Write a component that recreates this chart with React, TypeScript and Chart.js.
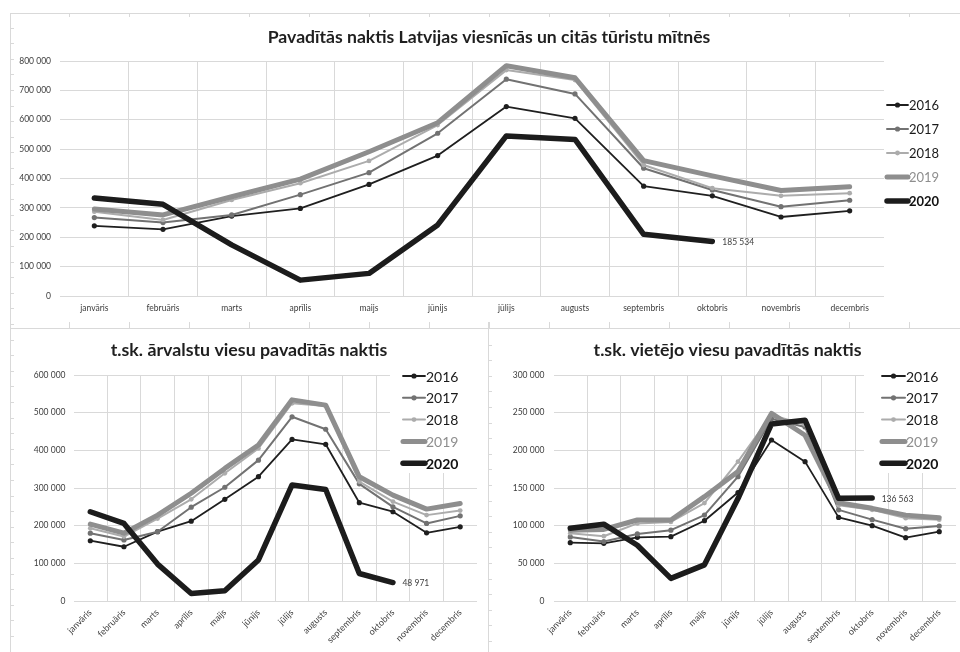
import React, { useEffect, useRef } from "react";
import { Chart, registerables } from "chart.js";

Chart.register(...registerables);

// ---------- DATA ----------
const months = [
  "janvāris", "februāris", "marts", "aprīlis", "maijs", "jūnijs",
  "jūlijs", "augusts", "septembris", "oktobris", "novembris", "decembris",
];
const years = ["2016", "2017", "2018", "2019", "2020"];

// Kopā (all guests)
const total2016 = [239000, 227000, 272000, 298000, 380000, 478000, 645000, 605000, 374000, 341000, 269000, 290000];
const total2017 = [267000, 250000, 276000, 345000, 420000, 554000, 738000, 688000, 435000, 361000, 304000, 326000];
const total2018 = [287000, 259000, 327000, 384000, 460000, 582000, 769000, 735000, 446000, 367000, 341000, 350000];
const total2019 = [296000, 276000, 338000, 398000, 491000, 590000, 784000, 743000, 461000, 409000, 359000, 372000];
const total2020 = [334000, 312000, 174000, 54000, 77000, 242000, 545000, 533000, 210000, 185534, null, null];

// Ārvalstu viesi (foreign guests)
const foreign2016 = [160000, 144000, 184000, 212000, 270000, 330000, 429000, 416000, 261000, 237000, 181000, 197000];
const foreign2017 = [180000, 162000, 184000, 249000, 302000, 374000, 489000, 456000, 311000, 250000, 206000, 226000];
const foreign2018 = [193000, 171000, 219000, 270000, 339000, 405000, 525000, 518000, 317000, 264000, 228000, 240000];
const foreign2019 = [204000, 180000, 228000, 286000, 352000, 414000, 534000, 520000, 330000, 281000, 244000, 259000];
const foreign2020 = [237000, 206000, 98000, 20000, 27000, 109000, 308000, 296000, 73000, 48971, null, null];

// Vietējie viesi (local guests)
const local2016 = [77400, 76500, 84500, 85400, 106600, 144000, 213700, 185000, 111000, 100000, 84000, 92000];
const local2017 = [85000, 79000, 89000, 94000, 114000, 165000, 242000, 231000, 121000, 108000, 96000, 99500];
const local2018 = [90000, 86000, 103000, 105000, 130000, 185000, 247000, 234000, 127000, 121000, 110000, 108000];
const local2019 = [94000, 95000, 107500, 107500, 138500, 172000, 249000, 220000, 130500, 123000, 114000, 110600];
const local2020 = [96500, 102000, 74000, 30000, 48000, 136000, 235000, 240000, 136300, 136563, null, null];

const totalMax = 800000;
const totalStep = 100000;
const foreignMax = 600000;
const foreignStep = 100000;
const localMax = 300000;
const localStep = 50000;

const titleTotal = "Pavadītās naktis Latvijas viesnīcās un citās tūristu mītnēs";
const titleForeign = "t.sk. ārvalstu viesu pavadītās naktis";
const titleLocal = "t.sk. vietējo viesu pavadītās naktis";

// ---------- STYLE ----------
const FONT = "Lato, 'Open Sans', sans-serif";
const GRID = "#d9d9d9";
const TICK = "#3d3d3d";

const seriesStyle = [
  { color: "#1f1f1f", width: 1.8, radius: 2.6, order: 5, text: "#1a1a1a", weight: "normal" },
  { color: "#727272", width: 2, radius: 2.6, order: 4, text: "#1a1a1a", weight: "normal" },
  { color: "#acacac", width: 2, radius: 2.4, order: 3, text: "#1a1a1a", weight: "normal" },
  { color: "#8e8e8e", width: 5, radius: 0, order: 2, text: "#8e8e8e", weight: "normal" },
  { color: "#1c1c1c", width: 5.5, radius: 0, order: 1, text: "#111111", weight: "bold" },
];

const fmt = (v: number) => String(v).replace(/\B(?=(\d{3})+(?!\d))/g, " ");

const decorPlugin = {
  id: "decor",
  afterDatasetsDraw(chart: any, _args: any, opts: any) {
    const ctx = chart.ctx as CanvasRenderingContext2D;
    ctx.save();
    if (opts.endLabel) {
      const meta = chart.getDatasetMeta(4);
      const pt = meta.data[opts.endLabel.index];
      if (pt) {
        ctx.font = `8.5px ${FONT}`;
        ctx.fillStyle = "#404040";
        ctx.textAlign = "left";
        ctx.textBaseline = "middle";
        ctx.fillText(opts.endLabel.text, pt.x + opts.endLabel.dx, pt.y + 1);
      }
    }
    const L = opts.legend;
    if (L.bg) {
      ctx.fillStyle = "#ffffff";
      ctx.fillRect(L.bg.x, L.bg.y, L.bg.w, L.bg.h);
    }
    chart.data.datasets.forEach((ds: any, i: number) => {
      const st = seriesStyle[i];
      const y = L.y + i * L.gap;
      ctx.strokeStyle = st.color;
      ctx.lineWidth = st.width;
      ctx.lineCap = "round";
      ctx.beginPath();
      ctx.moveTo(L.x, y);
      ctx.lineTo(L.x + L.len, y);
      ctx.stroke();
      if (st.radius > 0) {
        ctx.fillStyle = st.color;
        ctx.beginPath();
        ctx.arc(L.x + L.len / 2, y, st.radius, 0, Math.PI * 2);
        ctx.fill();
      }
      ctx.font = `${st.weight} ${L.size}px ${FONT}`;
      ctx.fillStyle = st.text;
      ctx.textAlign = "left";
      ctx.textBaseline = "middle";
      ctx.fillText(ds.label, L.x + L.len + 1, y + 1);
    });
    const T = opts.title;
    ctx.font = `bold ${T.size}px ${FONT}`;
    ctx.fillStyle = "#1f1f1f";
    ctx.textAlign = "center";
    ctx.textBaseline = "middle";
    ctx.fillText(T.text, T.x, T.y);
    ctx.restore();
  },
};

type Cfg = {
  width: number;
  height: number;
  series: (number | null)[][];
  max: number;
  step: number;
  yWidth: number;
  xHeight: number;
  top: number;
  right: number;
  rotate: boolean;
  xPad: number;
  yPad: number;
  xFont: number;
  title: any;
  legend: any;
  endLabel: any;
};

function LineChart({ cfg }: { cfg: Cfg }) {
  const ref = useRef<HTMLCanvasElement | null>(null);
  useEffect(() => {
    if (!ref.current) return;
    const chart = new Chart(ref.current, {
      type: "line",
      data: {
        labels: months,
        datasets: cfg.series.map((d, i) => ({
          label: years[i],
          data: d,
          borderColor: seriesStyle[i].color,
          backgroundColor: seriesStyle[i].color,
          borderWidth: seriesStyle[i].width,
          pointRadius: seriesStyle[i].radius,
          pointBorderWidth: 0,
          pointBackgroundColor: seriesStyle[i].color,
          order: seriesStyle[i].order,
          borderJoinStyle: "round",
          borderCapStyle: "round",
          tension: 0,
          spanGaps: false,
        })),
      },
      options: {
        responsive: false,
        animation: false,
        events: [],
        layout: { padding: { top: cfg.top, right: cfg.right, left: 0, bottom: 0 } },
        plugins: {
          legend: { display: false },
          tooltip: { enabled: false },
          title: { display: false },
          decor: { title: cfg.title, legend: cfg.legend, endLabel: cfg.endLabel },
        } as any,
        scales: {
          x: {
            type: "category",
            offset: true,
            afterFit: (s: any) => { s.height = cfg.xHeight; },
            grid: {
              offset: true,
              drawTicks: false,
              color: (c: any) => (c.type !== "tick" || c.index === 0 ? "rgba(0,0,0,0)" : GRID),
              lineWidth: 1,
            },
            border: { display: false },
            ticks: {
              autoSkip: false,
              maxRotation: cfg.rotate ? 45 : 0,
              minRotation: cfg.rotate ? 45 : 0,
              padding: cfg.xPad,
              color: TICK,
              font: { size: cfg.xFont, family: FONT },
            },
          },
          y: {
            min: 0,
            max: cfg.max,
            afterFit: (s: any) => { s.width = cfg.yWidth; },
            grid: { color: GRID, drawTicks: false, lineWidth: 1 },
            border: { display: false },
            ticks: {
              stepSize: cfg.step,
              padding: cfg.yPad,
              color: TICK,
              font: { size: 8.5, family: FONT },
              callback: (v: any) => fmt(Number(v)),
            },
          },
        },
      },
      plugins: [decorPlugin as any],
    });
    return () => chart.destroy();
  }, [cfg]);
  return <canvas ref={ref} width={cfg.width} height={cfg.height} style={{ display: "block", width: cfg.width, height: cfg.height }} />;
}

const cfgTotal: Cfg = {
  width: 950, height: 315,
  series: [total2016, total2017, total2018, total2019, total2020],
  max: totalMax, step: totalStep,
  yWidth: 50, xHeight: 32, top: 48, right: 76, rotate: false, xPad: 7, yPad: 9, xFont: 8.5,
  title: { text: titleTotal, x: 479, y: 24, size: 17.6 },
  legend: { x: 877, len: 21, y: 92, gap: 24, size: 13, bg: null },
  endLabel: { index: 9, text: fmt(185534), dx: 10 },
};

const cfgForeign: Cfg = {
  width: 476, height: 322,
  series: [foreign2016, foreign2017, foreign2018, foreign2019, foreign2020],
  max: foreignMax, step: foreignStep,
  yWidth: 63.5, xHeight: 51, top: 45, right: 9, rotate: true, xPad: 6, yPad: 8, xFont: 9,
  title: { text: titleForeign, x: 239, y: 20, size: 17.8 },
  legend: { x: 393, len: 22, y: 46, gap: 21.8, size: 14, bg: { x: 380, y: 30, w: 90, h: 113 } },
  endLabel: { index: 9, text: fmt(48971), dx: 9.5 },
};

const cfgLocal: Cfg = {
  width: 472, height: 322,
  series: [local2016, local2017, local2018, local2019, local2020],
  max: localMax, step: localStep,
  yWidth: 65.5, xHeight: 51, top: 45, right: 3, rotate: true, xPad: 6, yPad: 9, xFont: 9,
  title: { text: titleLocal, x: 239.5, y: 20, size: 17.8 },
  legend: { x: 394, len: 23, y: 46, gap: 21.8, size: 14, bg: { x: 376, y: 30, w: 96, h: 113 } },
  endLabel: { index: 9, text: fmt(136563), dx: 9.5 },
};

const BORDER = "#d9d9d9";
const line = (s: React.CSSProperties): React.CSSProperties => ({ position: "absolute", background: BORDER, ...s });
const vTicks = (s: React.CSSProperties): React.CSSProperties => ({
  position: "absolute",
  background: `repeating-linear-gradient(to bottom, transparent 0px, transparent 14.6px, ${BORDER} 14.6px, ${BORDER} 15.6px)`,
  ...s,
});
const hTicks = (s: React.CSSProperties): React.CSSProperties => ({
  position: "absolute",
  background: `repeating-linear-gradient(to right, transparent 0px, transparent 59px, ${BORDER} 59px, ${BORDER} 60px)`,
  ...s,
});

export default function App() {
  return (
    <div style={{ position: "fixed", left: 0, top: 0, width: 960, height: 652, background: "#fff", overflow: "hidden" }}>
      <div style={line({ left: 10, top: 13, width: 950, height: 1 })} />
      <div style={line({ left: 10, top: 13, width: 1, height: 639 })} />
      <div style={line({ left: 10, top: 328, width: 950, height: 1 })} />
      <div style={line({ left: 488, top: 322, width: 1, height: 330 })} />
      <div style={vTicks({ left: 11, top: 13, width: 3, height: 639 })} />
      <div style={vTicks({ left: 489, top: 330, width: 3, height: 322 })} />
      <div style={hTicks({ left: 10, top: 14, width: 950, height: 3 })} />
      <div style={hTicks({ left: 10, top: 322, width: 950, height: 6 })} />
      <div style={{ position: "absolute", left: 10, top: 13 }}>
        <LineChart cfg={cfgTotal} />
      </div>
      <div style={{ position: "absolute", left: 10, top: 330 }}>
        <LineChart cfg={cfgForeign} />
      </div>
      <div style={{ position: "absolute", left: 488, top: 330 }}>
        <LineChart cfg={cfgLocal} />
      </div>
    </div>
  );
}
